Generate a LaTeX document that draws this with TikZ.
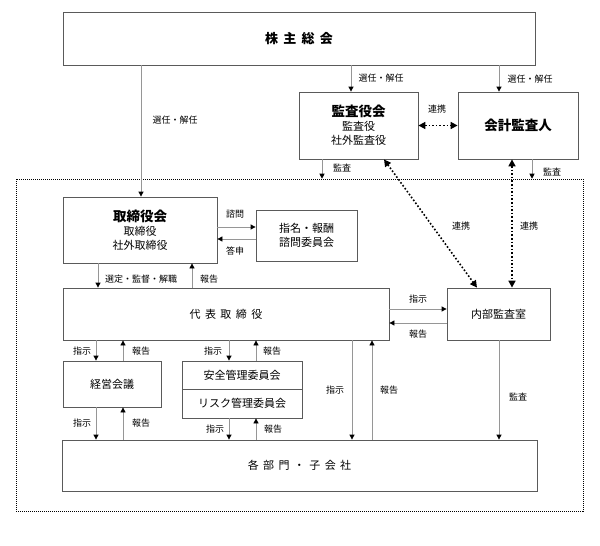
\documentclass[tikz,border=0pt]{standalone}
\usepackage{fontspec}
\setmainfont{Noto Sans CJK JP}
\newfontfamily\jpwide[LetterSpace=40]{Noto Sans CJK JP}
\usetikzlibrary{arrows.meta}

\begin{document}
\begin{tikzpicture}[x=1pt, y=-1pt]
	\definecolor{boxgray}{RGB}{90, 90, 90}
    \definecolor{linegray}{RGB}{150, 150, 150}
    
    \tikzset{
        box/.style={draw=boxgray, line width=0.8pt, inner sep=0pt, align=center, font=\fontsize{11}{14}\selectfont},
        conn/.style={draw=linegray, line width=0.8pt, -{Triangle[color=black, length=5pt, width=5pt]}},
        tie/.style={line width=1.6pt, dotted, {Triangle[length=7pt, width=7pt]}-{Triangle[length=7pt, width=7pt]}},
        lbl/.style={font=\fontsize{9}{10}\selectfont, inner sep=0pt},
        frame/.style={draw=black, line width=0.6pt, dash pattern=on 1pt off 1pt, inner sep=0pt}
    }
    
    \useasboundingbox (0,0) rectangle (600,546);
    
    % Group frame
    \node[frame, minimum width=567pt, minimum height=332pt] (group) at (299.5,345) {};
    
    % Boxes
    \node[box, minimum width=472pt, minimum height=53pt] (kabu) at (299,38.5)
        {\fontsize{13}{15}\bfseries\jpwide 株主総会};
    \node[box, minimum width=119pt, minimum height=67pt] (kansa) at (358.5,125.5)
        {{\fontsize{13.5}{18}\bfseries 監査役会}\\監査役\\社外監査役};
    \node[box, minimum width=120pt, minimum height=67pt] (kaikei) at (518,125.5)
        {\fontsize{13.5}{16}\bfseries 会計監査人};
    \node[box, minimum width=154pt, minimum height=66pt] (tori) at (140,230)
        {{\fontsize{13.5}{18}\bfseries 取締役会}\\取締役\\社外取締役};
    \node[box, minimum width=101pt, minimum height=51pt] (shimon) at (306.5,235.5)
        {指名・報酬\\諮問委員会};
    \node[box, minimum width=326pt, minimum height=52pt] (daihyo) at (226,314)
        {\jpwide 代表取締役};
    \node[box, minimum width=103pt, minimum height=52pt] (naibu) at (498.5,314)
        {内部監査室};
    \node[box, minimum width=98pt, minimum height=46pt] (keiei) at (112,384)
        {経営会議};
    \node[box, minimum width=120pt, minimum height=28pt] (anzen) at (242,375)
        {安全管理委員会};
    \node[box, minimum width=120pt, minimum height=29pt] (risk) at (242,403.5)
        {リスク管理委員会};
    \node[box, minimum width=475pt, minimum height=51pt] (kakubu) at (299.5,465.5)
        {\jpwide 各部門・子会社};
    
    % Columns and rows of the connectors
    \coordinate (c1) at (141,0);
    \coordinate (c2) at (351,0);
    \coordinate (c3) at (499,0);
    \coordinate (c4) at (322,0);
    \coordinate (c5) at (532,0);
    \coordinate (c6) at (384,0);
    \coordinate (c7) at (477,0);
    \coordinate (c8) at (512,0);
    \coordinate (c9) at (98,0);
    \coordinate (c10) at (192,0);
    \coordinate (c11) at (96,0);
    \coordinate (c12) at (123,0);
    \coordinate (c13) at (229,0);
    \coordinate (c14) at (256,0);
    \coordinate (c15) at (352,0);
    \coordinate (c16) at (372,0);
    \coordinate (r1) at (0,227);
    \coordinate (r2) at (0,239);
    \coordinate (r3) at (0,309);
    \coordinate (r4) at (0,323);
    
    % Shareholders
    \draw[conn] (kabu.south -| c1) -- (tori.north -| c1);
    \draw[conn] (kabu.south -| c2) -- (kansa.north -| c2);
    \draw[conn] (kabu.south -| c3) -- (kaikei.north -| c3);
    \node[lbl] (l1) at (175,120) {選任・解任};
    \node[lbl] (l2) at (381,78) {選任・解任};
    \node[lbl] (l3) at (530,79) {選任・解任};
    
    % Audit links
    \draw[tie] (kansa.east) -- (kaikei.west);
    \node[lbl] (l4) at (437,109) {連携};
    \draw[conn] (kansa.south -| c4) -- (group.north -| c4);
    \draw[conn] (kaikei.south -| c5) -- (group.north -| c5);
    \node[lbl] (l5) at (342,168) {監査};
    \node[lbl] (l6) at (552,172) {監査};
    \draw[tie] (kansa.south -| c6) -- (naibu.north -| c7);
    \draw[tie] (kaikei.south -| c8) -- (naibu.north -| c8);
    \node[lbl] (l7) at (461,226) {連携};
    \node[lbl] (l8) at (529,226) {連携};
    
    % Board
    \draw[conn] (tori.east |- r1) -- (shimon.west |- r1);
    \draw[conn] (shimon.west |- r2) -- (tori.east |- r2);
    \node[lbl] (l9) at (235,214) {諮問};
    \node[lbl] (l10) at (235,251) {答申};
    \draw[conn] (tori.south -| c9) -- (daihyo.north -| c9);
    \draw[conn] (daihyo.north -| c10) -- (tori.south -| c10);
    \node[lbl] (l11) at (141,279) {選定・監督・解職};
    \node[lbl] (l12) at (209,279) {報告};
    
    % Representative director
    \draw[conn] (daihyo.east |- r3) -- (naibu.west |- r3);
    \draw[conn] (naibu.west |- r4) -- (daihyo.east |- r4);
    \node[lbl] (l13) at (418,299) {指示};
    \node[lbl] (l14) at (418,334) {報告};
    \draw[conn] (daihyo.south -| c11) -- (keiei.north -| c11);
    \draw[conn] (keiei.north -| c12) -- (daihyo.south -| c12);
    \draw[conn] (daihyo.south -| c13) -- (anzen.north -| c13);
    \draw[conn] (anzen.north -| c14) -- (daihyo.south -| c14);
    \node[lbl] (l15) at (82,351) {指示};
    \node[lbl] (l16) at (141,351) {報告};
    \node[lbl] (l17) at (213,351) {指示};
    \node[lbl] (l18) at (272,351) {報告};
    
    % Down to the divisions
    \draw[conn] (keiei.south -| c11) -- (kakubu.north -| c11);
    \draw[conn] (kakubu.north -| c12) -- (keiei.south -| c12);
    \draw[conn] (risk.south -| c13) -- (kakubu.north -| c13);
    \draw[conn] (kakubu.north -| c14) -- (risk.south -| c14);
    \draw[conn] (daihyo.south -| c15) -- (kakubu.north -| c15);
    \draw[conn] (kakubu.north -| c16) -- (daihyo.south -| c16);
    \draw[conn] (naibu.south -| c3) -- (kakubu.north -| c3);
    \node[lbl] (l19) at (82,423) {指示};
    \node[lbl] (l20) at (141,423) {報告};
    \node[lbl] (l21) at (215,429) {指示};
    \node[lbl] (l22) at (273,429) {報告};
    \node[lbl] (l23) at (335,390) {指示};
    \node[lbl] (l24) at (389,390) {報告};
    \node[lbl] (l25) at (518,397) {監査};
\end{tikzpicture}
\end{document}
